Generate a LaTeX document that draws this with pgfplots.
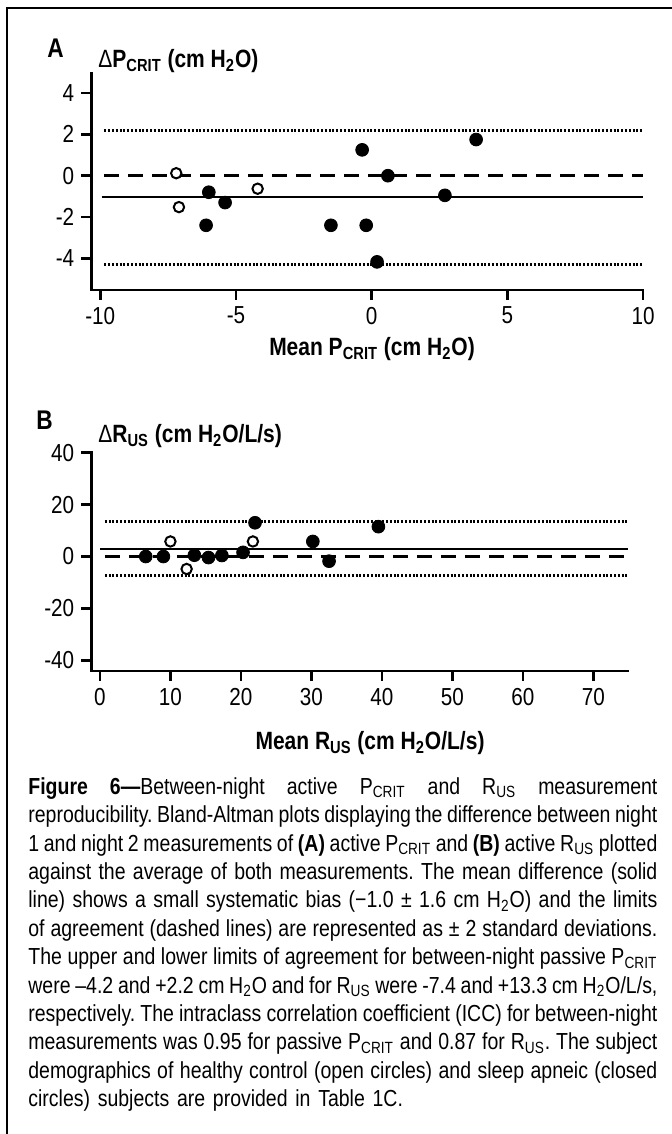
\documentclass[border=0pt]{standalone}
\usepackage{fontspec}
\setmainfont{Liberation Sans}[FakeStretch=0.84]
\usepackage{pgfplots}
\pgfplotsset{compat=1.18}
\newcommand{\sub}[1]{\textsubscript{#1}}
\newcommand{\capline}[1]{\hbox to 314.5pt{\spaceskip=0.24em plus 1fil minus 0.06em\xspaceskip=\spaceskip #1}}

\begin{document}
\begin{tikzpicture}
\useasboundingbox (0pt,0pt) rectangle (336pt,567pt);
\draw[line width=0.7pt] (3.5pt,0pt) -- (3.5pt,563pt) -- (336pt,563pt);

\pgfplotsset{
  myaxis/.style={
    scale only axis, anchor=south west,
    axis x line=bottom, axis y line=left,
    axis line style={-, line width=1.4pt, line cap=rect},
    tick align=outside, major tick length=5pt,
    every tick/.style={black, line width=1.4pt},
    tick label style={font=\fontsize{12.3}{14}\selectfont},
    /pgf/number format/assume math mode=true,
    clip=false,
  },
  closed/.style={only marks, mark=*, mark size=3.2pt, mark options={fill=black, draw=black}},
  open/.style={only marks, mark=*, mark size=2.6pt, mark options={fill=white, draw=black, line width=1pt}},
  dotline/.style={black, line width=1.5pt, dash pattern=on 1pt off 0.9pt},
  dashline/.style={black, line width=1.4pt, dash pattern=on 7.5pt off 4.5pt},
  solidline/.style={black, line width=1.2pt},
}

% ---------- Panel A ----------
\begin{axis}[myaxis, at={(45.65pt,422pt)}, width=275.85pt, height=108.5pt,
  xmin=-10.33, xmax=10, ymin=-5.53, ymax=4.97,
  xtick={-10,-5,0,5,10}, ytick={-4,-2,0,2,4}]
\addplot[dotline] coordinates {(-9.85,2.17) (10,2.17)};
\addplot[dotline] coordinates {(-9.85,-4.28) (10,-4.28)};
\addplot[dashline] coordinates {(-9.85,0) (10,0)};
\addplot[solidline] coordinates {(-9.95,-1.02) (10,-1.02)};
\addplot[closed] coordinates {
  (-6.0,-0.8) (-6.1,-2.4) (-5.4,-1.3) (-1.5,-2.4) (-0.35,1.25)
  (-0.2,-2.4) (0.2,-4.17) (0.6,0.0) (2.7,-0.95) (3.85,1.75)};
\addplot[open] coordinates {(-7.2,0.12) (-7.1,-1.52) (-4.2,-0.63)};
\end{axis}

\node[anchor=base west, inner sep=0pt, font=\bfseries\fontsize{13.5}{15}\selectfont] at (23.5pt,538pt) {A};
\node[anchor=base west, inner sep=0pt, font=\bfseries\fontsize{12.5}{14}\selectfont] at (49pt,533pt) {\textmd{Δ}P\sub{CRIT} (cm H\sub{2}O)};
\node[anchor=base, inner sep=0pt, font=\bfseries\fontsize{12.5}{14}\selectfont] at (186pt,389pt) {Mean P\sub{CRIT} (cm H\sub{2}O)};

% ---------- Panel B ----------
\begin{axis}[myaxis, at={(45.65pt,231.5pt)}, width=268.35pt, height=109.15pt,
  xmin=-1.22, xmax=74.9, ymin=-44.1, ymax=40,
  xtick={0,10,20,30,40,50,60,70}, ytick={-40,-20,0,20,40}]
\addplot[dotline] coordinates {(0.7,13.4) (74.9,13.4)};
\addplot[dotline] coordinates {(0.7,-7.45) (74.9,-7.45)};
\addplot[dashline] coordinates {(0.7,0) (74.9,0)};
\addplot[solidline] coordinates {(0,3.0) (74.9,3.0)};
\addplot[closed] coordinates {
  (6.5,0) (9.0,0) (13.4,0.5) (15.4,-0.4) (17.3,0.4) (20.3,1.6)
  (22.0,13.0) (30.2,5.8) (32.5,-1.8) (39.5,11.5)};
\addplot[open] coordinates {(10.0,5.8) (12.3,-4.8) (21.7,5.8)};
\end{axis}

\node[anchor=base west, inner sep=0pt, font=\bfseries\fontsize{13.5}{15}\selectfont] at (18pt,352pt) {B};
\node[anchor=base west, inner sep=0pt, font=\bfseries\fontsize{12.5}{14}\selectfont] at (49pt,345.5pt) {\textmd{Δ}R\sub{US} (cm H\sub{2}O/L/s)};
\node[anchor=base, inner sep=0pt, font=\bfseries\fontsize{12.5}{14}\selectfont] at (185pt,192pt) {Mean R\sub{US} (cm H\sub{2}O/L/s)};

% ---------- Caption ----------
\node[anchor=base west, inner sep=0pt, text width=314.5pt, align=left,
      font=\fontsize{11.6}{14.2}\selectfont] at (14pt,169.85pt) {%
\capline{\textbf{Figure 6—}Between-night active P\sub{CRIT} and R\sub{US} measurement}
\capline{reproducibility. Bland-Altman plots displaying the difference between night}
\capline{1 and night 2 measurements of \textbf{(A)} active P\sub{CRIT} and \textbf{(B)} active R\sub{US} plotted}
\capline{against the average of both measurements. The mean difference (solid}
\capline{line) shows a small systematic bias (−1.0 ± 1.6 cm H\sub{2}O) and the limits}
\capline{of agreement (dashed lines) are represented as ± 2 standard deviations.}
\capline{The upper and lower limits of agreement for between-night passive P\sub{CRIT}}
\capline{were –4.2 and +2.2 cm H\sub{2}O and for R\sub{US} were -7.4 and +13.3 cm H\sub{2}O/L/s,}
\capline{respectively. The intraclass correlation coefficient (ICC) for between-night}
\capline{measurements was 0.95 for passive P\sub{CRIT} and 0.87 for R\sub{US}. The subject}
\capline{demographics of healthy control (open circles) and sleep apneic (closed}
\hbox{circles) subjects are provided in Table 1C.}};
\end{tikzpicture}
\end{document}
